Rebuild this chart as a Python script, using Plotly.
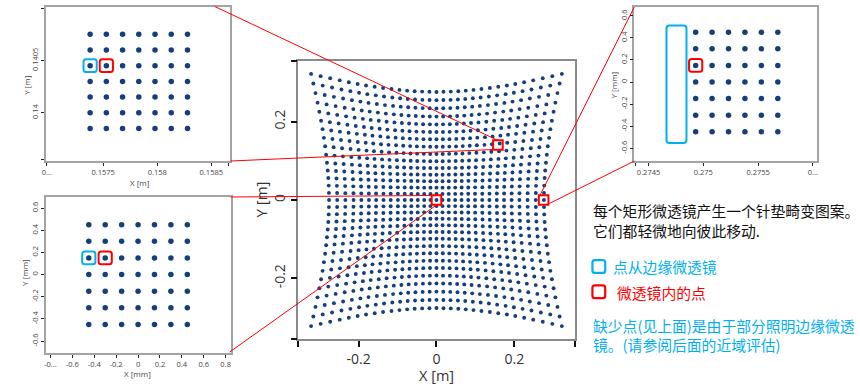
import plotly.graph_objects as go

W, H = 860, 386

# ---------------- data ----------------
# main chart: 31 x 31 pincushion spot grid
center_offsets = [0.0, 0.0155, 0.0315, 0.048, 0.0645, 0.0815, 0.099, 0.1175,
                  0.136, 0.155, 0.1735, 0.193, 0.213, 0.234, 0.255, 0.276]
edge_stretch = [1.000, 1.001, 1.003, 1.007, 1.012, 1.019, 1.027, 1.036,
                1.048, 1.060, 1.074, 1.090, 1.107, 1.126, 1.146, 1.167]
main_ticks = [-0.2, 0, 0.2]

# inset 1 (top-left), metres
in1_x = [0.15738, 0.15753, 0.15768, 0.15783, 0.15798, 0.15813, 0.15828]
in1_y = [0.14075, 0.1406, 0.14045, 0.1403, 0.14015, 0.14, 0.13985]
# inset 2 (bottom-left), millimetres
in2_x = [-0.45, -0.30, -0.15, 0.0, 0.15, 0.30, 0.45]
in2_y = [0.45, 0.30, 0.15, 0.0, -0.15, -0.30, -0.45]
# inset 3 (top-right), x metres / y millimetres
in3_x = [0.27493, 0.27508, 0.27523, 0.27538, 0.27553, 0.27568]
in3_y = [0.45, 0.30, 0.15, 0.0, -0.15, -0.30, -0.45]

DOT = "#153f7a"
RED = "#ff0000"
CYAN = "#00b0f0"
CJK = "Noto Sans CJK SC"
SANS = "Open Sans, Liberation Sans, sans-serif"


def pp(px, py):
    return px / W, 1 - py / H


def grid(xs, ys):
    gx, gy = [], []
    for yv in ys:
        for xv in xs:
            gx.append(xv)
            gy.append(yv)
    return gx, gy


mx, my = [], []
for i in range(-15, 16):
    for j in range(-15, 16):
        si = (i > 0) - (i < 0)
        sj = (j > 0) - (j < 0)
        mx.append(si * center_offsets[abs(i)] * edge_stretch[abs(j)])
        my.append(sj * center_offsets[abs(j)] * edge_stretch[abs(i)])

fig = go.Figure()
fig.add_trace(go.Scatter(x=mx, y=my, mode="markers", xaxis="x", yaxis="y",
                         marker=dict(size=3.9, color=DOT, line=dict(width=0)),
                         hoverinfo="skip"))
for (xs, ys, ax) in [(in1_x, in1_y, "2"), (in2_x, in2_y, "3"), (in3_x, in3_y, "4")]:
    gx, gy = grid(xs, ys)
    fig.add_trace(go.Scatter(x=gx, y=gy, mode="markers", xaxis="x" + ax, yaxis="y" + ax,
                             marker=dict(size=5.5, color=DOT, line=dict(width=0)),
                             hoverinfo="skip"))


def dom_x(a, b):
    return [a / W, b / W]


def dom_y(top, bot):
    return [1 - bot / H, 1 - top / H]


main_rng = [-0.355, 0.355]
main_style = dict(showline=True, linecolor="#8a8a8a", linewidth=1.5, mirror=True,
                  ticks="outside", ticklen=6, tickwidth=2, tickcolor="#111",
                  showgrid=False, zeroline=False, range=main_rng,
                  tickfont=dict(family=SANS, size=14, color="#333"))

inset_style = dict(showline=True, linecolor="#a3a3a3", linewidth=1.5, mirror=True,
                   ticks="outside", ticklen=3, tickwidth=1, tickcolor="#222",
                   showgrid=False, zeroline=False,
                   tickfont=dict(family=SANS, size=7.5, color="#444"))

fig.update_layout(
    width=W, height=H, margin=dict(l=0, r=0, t=0, b=0),
    paper_bgcolor="white", plot_bgcolor="white", showlegend=False,
    xaxis=dict(domain=dom_x(296, 574), anchor="y",
               tickvals=[main_rng[0]] + main_ticks + [main_rng[1]],
               ticktext=["", "-0.2", "0", "0.2", ""], **main_style),
    yaxis=dict(domain=dom_y(61, 339), anchor="x", tickangle=-90,
               tickvals=[main_rng[0]] + main_ticks + [main_rng[1]],
               ticktext=["", "-0.2", "0", "0.2", ""], **main_style),
    # inset 1
    xaxis2=dict(domain=dom_x(42, 227), anchor="y2", range=[0.15697, 0.15867],
                tickvals=[0.15698, 0.1575, 0.158, 0.1585, 0.15866],
                ticktext=["0...", "0.1575", "0.158", "0.1585", ""], **inset_style),
    yaxis2=dict(domain=dom_y(7, 161), anchor="x2", range=[0.13954, 0.14101], tickangle=-90,
                tickvals=[0.13955, 0.14, 0.1405, 0.141],
                ticktext=["", "0.14", "0.1405", ""], **inset_style),
    # inset 2
    xaxis3=dict(domain=dom_x(42, 228), anchor="y3", range=[-0.843, 0.846],
                tickvals=[-0.8, -0.6, -0.4, -0.2, 0, 0.2, 0.4, 0.6, 0.8],
                ticktext=["-0...", "-0.6", "-0.4", "-0.2", "0", "0.2", "0.4", "0.6", "0.8"],
                **inset_style),
    yaxis3=dict(domain=dom_y(197, 353), anchor="x3", range=[-0.708, 0.70], tickangle=-90,
                tickvals=[-0.6, -0.4, -0.2, 0, 0.2, 0.4, 0.6],
                ticktext=["-0.6", "-0.4", "-0.2", "0", "0.2", "0.4", "0.6"], **inset_style),
    # inset 3
    xaxis4=dict(domain=dom_x(634, 818), anchor="y4", range=[0.27437, 0.27604],
                tickvals=[0.27438, 0.2745, 0.275, 0.2755, 0.276],
                ticktext=["", "0.2745", "0.275", "0.2755", "0..."], **inset_style),
    yaxis4=dict(domain=dom_y(7, 161), anchor="x4", range=[-0.715, 0.679], tickangle=-90,
                tickvals=[-0.6, -0.4, -0.2, 0, 0.2, 0.4, 0.6],
                ticktext=["-0.6", "-0.4", "-0.2", "0", "0.2", "0.4", "0.6"], **inset_style),
)


def rounded_path(hw, hh, r):
    return (f"M {-hw + r},{-hh} L {hw - r},{-hh} Q {hw},{-hh} {hw},{-hh + r} "
            f"L {hw},{hh - r} Q {hw},{hh} {hw - r},{hh} L {-hw + r},{hh} "
            f"Q {-hw},{hh} {-hw},{hh - r} L {-hw},{-hh + r} Q {-hw},{-hh} {-hw + r},{-hh} Z")


shapes = []


def rbox(xref, yref, x, y, hw, hh, r, color, width=2):
    shapes.append(dict(type="path", xref=xref, yref=yref, xsizemode="pixel", ysizemode="pixel",
                       xanchor=x, yanchor=y, path=rounded_path(hw, hh, r),
                       line=dict(color=color, width=width), fillcolor="rgba(0,0,0,0)",
                       layer="above"))


# highlight boxes in insets
rbox("x2", "y2", in1_x[0], in1_y[2], 6.6, 6.4, 2.5, CYAN)
rbox("x2", "y2", in1_x[1], in1_y[2], 6.6, 6.4, 2.5, RED)
rbox("x3", "y3", in2_x[0], in2_y[2], 6.6, 6.4, 2.5, CYAN)
rbox("x3", "y3", in2_x[1], in2_y[2], 6.6, 6.4, 2.5, RED)
rbox("x4", "y4", in3_x[0], in3_y[2], 6.6, 6.4, 2.5, RED)
rbox("x4", "y4", 0.274755, -0.02, 10, 58.8, 3, CYAN)

# small red boxes in main chart at the centre of each magnified cluster
for cx, cy in [(sum(in1_x) / len(in1_x), sum(in1_y) / len(in1_y)),
               (0.0, 0.0),
               (sum(in3_x) / len(in3_x), 0.0)]:
    shapes.append(dict(type="rect", xref="x", yref="y", xsizemode="pixel", ysizemode="pixel",
                       xanchor=cx, yanchor=cy, x0=-4.8, x1=4.8, y0=-4.8, y1=4.8,
                       line=dict(color=RED, width=2), layer="above"))

# connector lines (pixel positions on the page)
connectors = [((212, 6.5), (497, 140.5)),
              ((228, 161), (492.5, 149.5)),
              ((228, 197), (430.5, 195.5)),
              ((227, 352), (435, 205)),
              ((634, 7), (539, 195.5)),
              ((634, 161), (548.5, 203.5))]
for (a, b) in connectors:
    x0, y0 = pp(*a)
    x1, y1 = pp(*b)
    shapes.append(dict(type="line", xref="paper", yref="paper", x0=x0, y0=y0, x1=x1, y1=y1,
                       line=dict(color=RED, width=1), layer="above"))

# legend icons on the right
for (py, col) in [(266.5, CYAN), (291.8, RED)]:
    x, y = pp(598.3, py)
    rbox("paper", "paper", x, y, 6.4, 6.4, 2.5, col, width=2.2)

fig.update_layout(shapes=shapes)

ann = []


def text(px, py, s, size, color="#333", family=SANS, xanchor="center", angle=0, yanchor="middle"):
    x, y = pp(px, py)
    ann.append(dict(x=x, y=y, xref="paper", yref="paper", text=s, showarrow=False,
                    xanchor=xanchor, yanchor=yanchor, textangle=angle, align="left",
                    font=dict(size=size, color=color, family=family)))


# axis titles
text(435, 375.5, "X [m]", 14.5)
text(258, 200, "Y [m]", 15, angle=-90)
text(136, 182.5, "X [m]", 8, "#444")
text(22, 85, "Y [m]", 8, "#444", angle=-90)
text(134, 373, "X [mm]", 8, "#444")
text(20, 272, "Y [mm]", 8, "#444", angle=-90)
text(613, 85, "Y [mm]", 8, "#444", angle=-90)

# explanatory text
FS = 14.8
text(590, 210, "每个矩形微透镜产生一个针垫畸变图案。", FS, "#111", CJK, "left")
text(590, 230.5, "它们都轻微地向彼此移动.", FS, "#111", CJK, "left")
text(611, 266, "点从边缘微透镜", FS, CYAN, CJK, "left")
text(615, 292.5, "微透镜内的点", FS, RED, CJK, "left")
text(590, 335, "缺少点(见上面)是由于部分照明边缘微透<br>镜。(请参阅后面的近域评估)",
     FS, CYAN, CJK, "left")

fig.update_layout(annotations=ann)

fig.write_html("out.html", config={"displayModeBar": False},
               post_script="document.body.style.margin='0px';document.body.style.padding='0px';")
